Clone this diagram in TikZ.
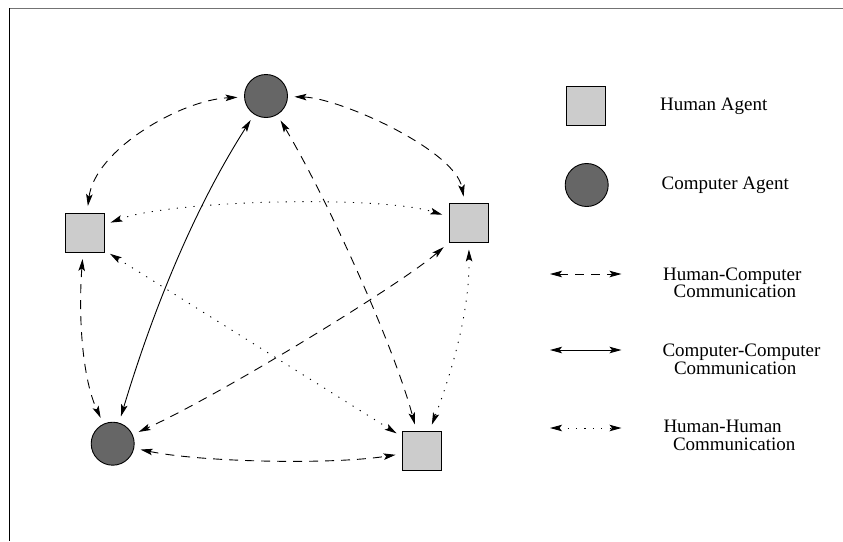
\documentclass[tikz,border=0pt]{standalone}
\usepackage{fontspec}
\setmainfont{Liberation Serif}
\usetikzlibrary{arrows.meta}
\begin{document}
\begin{tikzpicture}[x=1pt,y=-1pt,
  human/.style={draw=black,line width=0.9pt,fill={rgb,255:red,204;green,204;blue,204},minimum size=39pt,inner sep=0pt,outer sep=0pt},
  computer/.style={circle,draw=black,line width=0.9pt,fill={rgb,255:red,102;green,102;blue,102},minimum size=43pt,inner sep=0pt,outer sep=0pt},
  link/.style={line width=0.9pt,{Stealth[length=12pt,width=6.5pt,inset=2.5pt]}-{Stealth[length=12pt,width=6.5pt,inset=2.5pt]},shorten <=7pt,shorten >=7pt},
  hc/.style={link,dash pattern=on 9pt off 7pt},
  cc/.style={link},
  hh/.style={link,dash pattern=on 1.2pt off 7.2pt},
  label/.style={font=\fontsize{19}{16}\selectfont,inner sep=0pt,anchor=base west}
]
\useasboundingbox (0,0) rectangle (843,541);
% frame
\draw[line width=1.4pt,color={rgb,255:red,115;green,115;blue,115}] (9,8.7) -- (843,8.7);
\draw[line width=1pt,black] (9,8) -- (9,541);

% agents
\node[computer] (C1) at (266,96) {};
\node[human] (H1) at (84.5,232.5) {};
\node[human] (H2) at (468.5,223) {};
\node[computer] (C2) at (112.7,443.7) {};
\node[human] (H3) at (422,450.7) {};

% connectors
\draw[hc] (H1) .. controls (95,150) and (180,100) .. (C1);
\draw[hc] (C1) .. controls (340,98) and (455,150) .. (H2);
\draw[hh] (H1) .. controls (170,200) and (380,195) .. (H2);
\draw[cc] (C1) .. controls (190,215) and (150,320) .. (C2);
\draw[hc] (C1) .. controls (325,195) and (392,340) .. (H3);
\draw[hh] (H1.-42) -- (H3.145);
\draw[hc] (H2.south west) .. controls (400,285) and (220,395) .. (C2);
\draw[hh] (H2) .. controls (470,320) and (445,390) .. (H3);
\draw[hc] (H1) .. controls (78,320) and (83,380) .. (C2);
\draw[hc] (C2) .. controls (200,462) and (330,465) .. (H3);

% legend
\node[human] (LH) at (586,106) {};
\node[computer] (LC) at (586.7,185) {};
\node[label] (tLH) at (660,110) {Human Agent};
\node[label] (tLC) at (661.5,189.3) {Computer Agent};

\coordinate (a1) at (550,274);
\coordinate (b1) at (621.5,274);
\coordinate (a2) at (550,350);
\coordinate (b2) at (621.5,350);
\coordinate (a3) at (550,428);
\coordinate (b3) at (621.5,428);
\draw[hc,shorten <=0pt,shorten >=0pt] (a1) -- (b1);
\draw[cc,shorten <=0pt,shorten >=0pt] (a2) -- (b2);
\draw[hh,shorten <=0pt,shorten >=0pt] (a3) -- (b3);

\node[label] (tHC) at (663,280) {\begin{tabular}[t]{@{}l@{}}Human-Computer\\\hspace*{10.5pt}Communication\end{tabular}};
\node[label] (tCC) at (662.3,356.7) {\begin{tabular}[t]{@{}l@{}}Computer-Computer\\\hspace*{11.5pt}Communication\end{tabular}};
\node[label] (tHH) at (663.3,432.7) {\begin{tabular}[t]{@{}l@{}}Human-Human\\\hspace*{9.5pt}Communication\end{tabular}};
\end{tikzpicture}
\end{document}
